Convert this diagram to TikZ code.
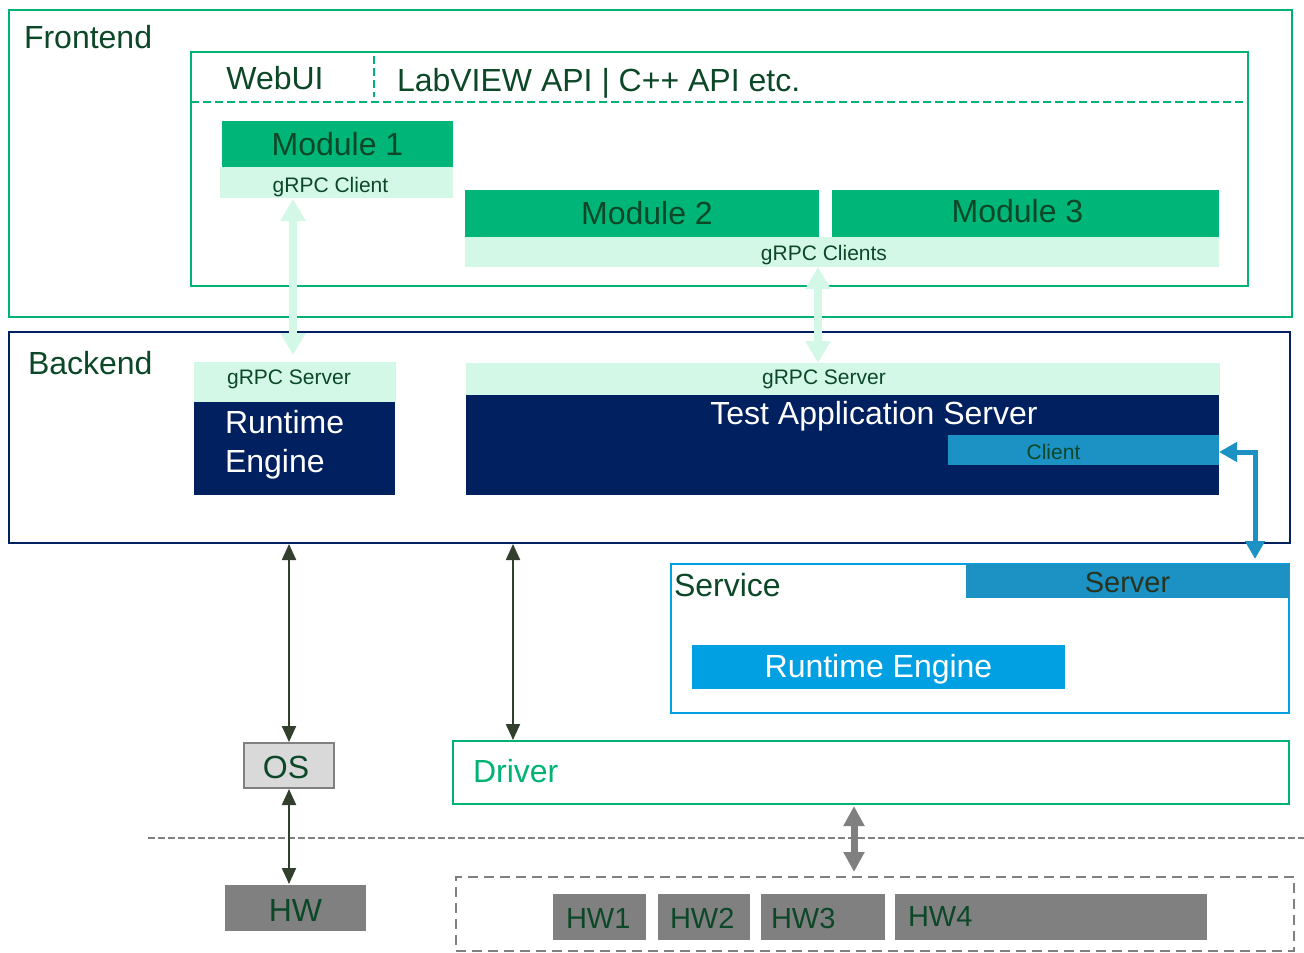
\documentclass[tikz,border=0pt]{standalone}
\usepackage{fontspec}
\setmainfont{Liberation Sans}
\usetikzlibrary{arrows.meta}

\definecolor{fgreen}{RGB}{0,179,115}
\definecolor{modgreen}{RGB}{0,181,120}
\definecolor{mint}{RGB}{212,248,232}
\definecolor{txtgreen}{RGB}{12,72,40}
\definecolor{navy}{RGB}{0,32,96}
\definecolor{cblue}{RGB}{27,145,196}
\definecolor{sblue}{RGB}{0,160,227}
\definecolor{lgray}{RGB}{217,217,217}
\definecolor{mgray}{RGB}{128,128,128}
\definecolor{darrow}{RGB}{51,63,45}
\definecolor{srvtxt}{RGB}{40,52,32}

\tikzset{
  blk/.style={inner sep=0pt, outer sep=0pt, anchor=north west},
  big/.style={font=\fontsize{32}{39}\selectfont},
  small/.style={font=\fontsize{21}{25}\selectfont},
  txt/.style={inner sep=0pt, outer sep=0pt, text=txtgreen},
  lbl/.style={txt, anchor=west, big},
  frame/.style={blk, draw, line width=2.5pt},
  mintarrow/.style={draw=mint, line width=8pt,
    {Triangle[length=22pt,width=24pt]}-{Triangle[length=22pt,width=24pt]}},
  darkarrow/.style={draw=darrow, line width=2.2pt,
    {Triangle[length=16pt,width=14pt]}-{Triangle[length=16pt,width=14pt]}},
  grayarrow/.style={draw=mgray, line width=7pt,
    {Triangle[length=20pt,width=20pt]}-{Triangle[length=20pt,width=20pt]}},
  bluearrow/.style={draw=cblue, line width=5pt,
    {Triangle[length=18pt,width=19pt]}-{Triangle[length=18pt,width=19pt]}},
  hwbox/.style={blk, fill=mgray, minimum height=46pt},
  hwtxt/.style={lbl, font=\fontsize{29}{34}\selectfont},
}

\begin{document}
\begin{tikzpicture}[x=1pt, y=-1pt]
\useasboundingbox (0,0) rectangle (1304,953);

% ---------- Frontend ----------
\node[frame, draw=fgreen, minimum width=1283pt, minimum height=307pt] (front) at (9,10) {};
\node[lbl] (frontlbl) at (24,37) {Frontend};
\node[frame, draw=fgreen, minimum width=1057pt, minimum height=234pt] (api) at (191,52) {};
\coordinate (sepy) at (0,102);
\draw[fgreen, line width=2pt, dash pattern=on 8pt off 4pt] (api.west |- sepy) -- (api.east |- sepy);
\draw[fgreen, line width=2pt, dash pattern=on 8pt off 4pt] (374,56) -- (374,97);
\node[txt, big] (webui) at (275,78) {WebUI};
\node[lbl] (apis) at (397,83) {LabVIEW API | C++ API etc.};

\node[blk, fill=modgreen, minimum width=231pt, minimum height=46pt] (m1) at (222,121) {};
\node[txt, big] (m1t) at (m1.center) {Module 1};
\node[blk, fill=mint, minimum width=233pt, minimum height=31pt] (m1c) at (220,167) {};
\node[txt, small] (m1ct) at ([xshift=-6pt,yshift=-5pt]m1c.center) {gRPC Client};
\node[blk, fill=modgreen, minimum width=354pt, minimum height=47pt] (m2) at (465,190) {};
\node[txt, big] (m2t) at ([xshift=5pt]m2.center) {Module 2};
\node[blk, fill=modgreen, minimum width=387pt, minimum height=47pt] (m3) at (832,190) {};
\node[txt, big] (m3t) at ([xshift=-8pt,yshift=2pt]m3.center) {Module 3};
\node[blk, fill=mint, minimum width=754pt, minimum height=30pt] (m23c) at (465,237) {};
\node[txt, small] (m23ct) at ([xshift=-18pt,yshift=-3pt]m23c.center) {gRPC Clients};

% ---------- Backend ----------
\node[frame, draw=navy, minimum width=1281pt, minimum height=211pt] (back) at (9,332) {};
\node[lbl] (backlbl) at (28,363) {Backend};
\node[blk, fill=mint, minimum width=202pt, minimum height=40pt] (gs1) at (194,362) {};
\node[txt, small] (gs1t) at ([xshift=-6pt,yshift=3pt]gs1.center) {gRPC Server};
\node[blk, fill=navy, minimum width=201pt, minimum height=93pt] (re1) at (194,402) {};
\node[lbl, text=white, align=left] (re1lbl) at (225,445) {Runtime\\Engine};
\node[blk, fill=mint, minimum width=754pt, minimum height=32pt] (gs2) at (466,363) {};
\node[txt, small] (gs2t) at ([xshift=-19pt]gs2.center) {gRPC Server};
\node[blk, fill=navy, minimum width=753pt, minimum height=100pt] (tas) at (466,395) {};
\node[txt, big, text=white] (taslbl) at (874,416) {Test Application Server};
\node[blk, fill=cblue, minimum width=271pt, minimum height=30pt] (cl) at (948,435) {};
\node[txt, small] (clt) at ([xshift=-30pt,yshift=-2pt]cl.center) {Client};

% ---------- Service ----------
\node[frame, draw=sblue, minimum width=618pt, minimum height=149pt] (svc) at (671,564) {};
\node[blk, fill=cblue, minimum width=323pt, minimum height=34pt] (srv) at (966,564) {};
\node[txt, text=srvtxt, font=\fontsize{29}{34}\selectfont] (srvt) at ([yshift=-2pt]srv.center) {Server};
\node[lbl] (svclbl) at (674,585) {Service};
\node[blk, fill=sblue, minimum width=373pt, minimum height=44pt] (re2) at (692,645) {};
\node[txt, big, text=white] (re2t) at ([yshift=-2pt]re2.center) {Runtime Engine};

% ---------- OS, driver and hardware ----------
\node[blk, fill=lgray, draw=mgray, line width=2.5pt, minimum width=90pt, minimum height=45pt] (os) at (244,743) {};
\node[txt, big] (ost) at ([xshift=-3pt,yshift=-2pt]os.center) {OS};
\node[hwbox, minimum width=141pt] (hw) at (225,885) {};
\node[txt, big] (hwt) at ([yshift=-2pt]hw.center) {HW};
\node[frame, draw=fgreen, minimum width=836pt, minimum height=63pt] (drv) at (453,741) {};
\node[lbl, text=fgreen] (drvlbl) at (473,771) {Driver};

\coordinate (dl0) at (148,838);
\coordinate (dl1) at (1304,838);
\draw[mgray, line width=2pt, dash pattern=on 7pt off 3pt] (dl0) -- (dl1);

\node[blk, draw=mgray, line width=2pt, dash pattern=on 10pt off 6pt, minimum width=838pt, minimum height=74pt] (hwgrp) at (456,877) {};
\node[hwbox, minimum width=93pt] (hw1) at (553,894) {};
\node[hwbox, minimum width=92pt] (hw2) at (658,894) {};
\node[hwbox, minimum width=124pt] (hw3) at (761,894) {};
\node[hwbox, minimum width=312pt] (hw4) at (895,894) {};
\node[hwtxt] (hw1lbl) at ([xshift=13pt,yshift=-2pt]hw1.west) {HW1};
\node[hwtxt] (hw2lbl) at ([xshift=12pt,yshift=-1pt]hw2.west) {HW2};
\node[hwtxt] (hw3lbl) at ([xshift=10pt,yshift=-2pt]hw3.west) {HW3};
\node[hwtxt] (hw4lbl) at ([xshift=13pt]hw4.west) {HW4};

% ---------- Connectors ----------
\coordinate (xa) at (293,0);
\coordinate (xb) at (818,0);
\coordinate (xc) at (289,0);
\coordinate (xd) at (513,0);
\coordinate (xe) at (854,0);
\coordinate (xf) at (1255,0);

\draw[mintarrow, shorten <=1pt, shorten >=7pt] (m1c.south -| xa) -- (gs1.north -| xa);
\draw[mintarrow] (m23c.south -| xb) -- (gs2.north -| xb);

\draw[darkarrow, shorten <=1pt, shorten >=1pt] (back.south -| xc) -- (os.north -| xc);
\draw[darkarrow, shorten <=1pt, shorten >=1pt] (back.south -| xd) -- (drv.north -| xd);
\draw[darkarrow, shorten <=1pt, shorten >=1pt] (os.south -| xc) -- (hw.north -| xc);

\draw[grayarrow, shorten <=2pt, shorten >=5pt] (drv.south -| xe) -- (hwgrp.north -| xe);

\draw[bluearrow, shorten >=5pt] ([yshift=-2pt]cl.east) -| (srv.north -| xf);

\end{tikzpicture}
\end{document}
